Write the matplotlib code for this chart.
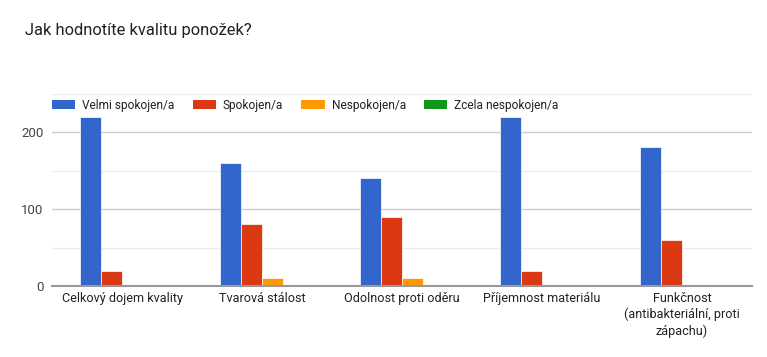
import numpy as np
from matplotlib import pyplot as plt
from matplotlib.patches import Patch

# data
categories = ['Celkový dojem kvality', 'Tvarová stálost', 'Odolnost proti oděru',
              'Příjemnost materiálu', 'Funkčnost\n(antibakteriální, proti\nzápachu)']
series_names = ['Velmi spokojen/a', 'Spokojen/a', 'Nespokojen/a', 'Zcela nespokojen/a']
velmi = [220, 160, 140, 220, 180]
spokojen = [20, 80, 90, 20, 60]
nespokojen = [0, 10, 10, 0, 0]
zcela = [0, 0, 0, 0, 0]
colors = ['#3366cc', '#dc3912', '#ff9900', '#109618']

plt.rcParams['font.family'] = ['Roboto', 'DejaVu Sans']

fig = plt.figure(figsize=(7.67, 3.57), dpi=100)
ax = fig.add_axes([52/767, 1 - 286/357, 700/767, (286 - 93.5)/357])

x = np.arange(len(categories))
width = 0.15
all_series = [velmi, spokojen, nespokojen, zcela]
for i, vals in enumerate(all_series):
    ax.bar(x + (i - 1.5) * width, vals, width, color=colors[i],
           edgecolor='white', linewidth=0.5, zorder=3)

ax.set_xlim(-0.5, len(categories) - 0.5)
ax.set_ylim(0, 250)
ax.set_yticks([0, 100, 200])
ax.set_yticks([50, 150, 250], minor=True)
ax.grid(axis='y', which='major', color='#cccccc', linewidth=1, zorder=0)
ax.grid(axis='y', which='minor', color='#ebebeb', linewidth=1, zorder=0)
ax.tick_params(axis='y', which='both', length=0, labelsize=9.5, labelcolor='#444444', pad=6)
ax.set_xticks(x)
ax.set_xticklabels(categories, fontsize=9.1, color='#222222', linespacing=1.3)
ax.tick_params(axis='x', length=0, pad=4)
for s in ['top', 'right', 'left']:
    ax.spines[s].set_visible(False)
ax.spines['bottom'].set_color('#999999')
ax.spines['bottom'].set_linewidth(1.5)
ax.spines['bottom'].set_zorder(4)

handles = [Patch(facecolor=c, label=n) for c, n in zip(colors, series_names)]
fig.legend(handles=handles, loc='center left', bbox_to_anchor=(41/767, 1 - 105/357),
           ncol=4, frameon=False, fontsize=8.6, handlelength=1.95, handleheight=0.8,
           handletextpad=0.6, columnspacing=1.5, labelcolor='#222222')

fig.text(25/767, 1 - 30/357, 'Jak hodnotíte kvalitu ponožek?', fontsize=11.9,
         color='#202124', va='center')

fig.savefig('out.png', dpi=100)
